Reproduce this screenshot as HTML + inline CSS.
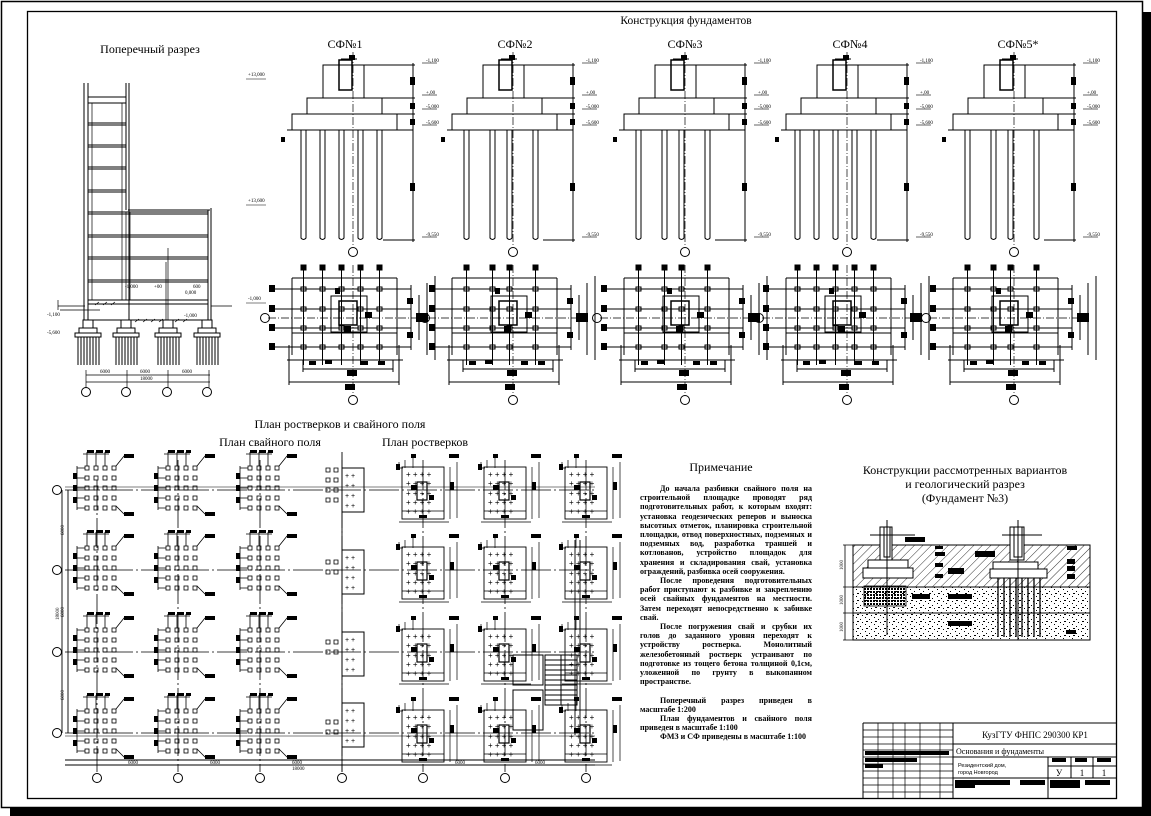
<!DOCTYPE html>
<html><head><meta charset="utf-8"><style>
html,body{margin:0;padding:0;background:#fff;}
body{width:1151px;height:816px;overflow:hidden;position:relative;font-family:"Liberation Serif","DejaVu Serif",serif;}
svg{position:absolute;left:0;top:0;}
.note{position:absolute;left:640px;top:484px;width:172px;font-size:8px;line-height:9.2px;font-weight:bold;color:#000;}
.note div{text-align:justify;text-align-last:justify;white-space:nowrap;overflow:hidden;}
.note div.l{text-align-last:left;}
.note div.i{text-indent:20px;}
</style></head><body>
<svg width="1151" height="816" viewBox="0 0 1151 816" font-family="Liberation Serif, serif">
<defs>
<pattern id="hat" width="6" height="6" patternUnits="userSpaceOnUse" patternTransform="rotate(45)"><line x1="0" y1="0" x2="0" y2="6" stroke="#000" stroke-width="0.8"/></pattern>
<pattern id="dots" width="9" height="7" patternUnits="userSpaceOnUse"><rect x="1" y="1" width="1" height="1"/><rect x="5" y="3" width="1" height="1"/><rect x="2" y="5" width="2" height="1"/><rect x="7" y="6" width="1" height="1"/></pattern>
<pattern id="grid" width="3" height="3" patternUnits="userSpaceOnUse"><rect width="2" height="2"/></pattern>
<g id="fd" fill="none" stroke="#000"><rect x="-5" y="320" width="10" height="8"/><rect x="-9" y="328" width="18" height="5"/><rect x="-13" y="333" width="26" height="4"/><path d="M-10 337 v28 M-7 337 v28 M-4 337 v28 M-1 337 v28 M2 337 v28 M5 337 v28 M8 337 v28 M11 337 v28"/></g>
<g id="elev" fill="none" stroke="#000" stroke-width="1">
 <rect x="-30" y="65" width="41" height="33"/>
 <rect x="-14" y="60" width="13" height="30" stroke-width="1.5"/>
 <rect x="-46" y="98" width="75" height="16"/>
 <rect x="-61" y="114" width="105" height="16"/>
 <line x1="-66" y1="130" x2="60" y2="130"/>
 <line x1="0" y1="52" x2="0" y2="246" stroke-dasharray="8,2,1,2" stroke-width="0.7"/>
 <circle cx="0" cy="252" r="4.5"/>
 <line x1="60" y1="63" x2="60" y2="242"/>
 <line x1="11" y1="65" x2="62" y2="65"/><line x1="29" y1="98" x2="62" y2="98"/><line x1="44" y1="114" x2="62" y2="114"/><line x1="30" y1="240" x2="62" y2="240"/>
 <line x1="-12" y1="59" x2="4" y2="59"/>
 <g fill="#000" stroke="none"><rect x="57" y="77" width="5" height="8"/><rect x="57" y="103" width="5" height="6"/><rect x="57" y="119" width="5" height="6"/><rect x="57" y="183" width="5" height="8"/><rect x="-72" y="137" width="4" height="5"/><rect x="-4" y="55" width="6" height="5"/></g>
 <g font-size="5" fill="#000" stroke="none"><text x="73" y="62">-1,100</text><text x="73" y="94">+,00</text><text x="73" y="108">-5,000</text><text x="73" y="124">-5,600</text><text x="73" y="236">-9,550</text></g>
 <g stroke-width="0.6"><line x1="69" y1="63" x2="84" y2="63"/><line x1="69" y1="95" x2="84" y2="95"/><line x1="69" y1="109" x2="84" y2="109"/><line x1="69" y1="125" x2="84" y2="125"/><line x1="69" y1="237" x2="84" y2="237"/></g>
 <line x1="-61" y1="278" x2="44" y2="278"/><line x1="-61" y1="278" x2="-61" y2="355"/><line x1="44" y1="278" x2="44" y2="355"/><line x1="-61" y1="333" x2="44" y2="333"/>
 <line x1="-80" y1="289" x2="58" y2="289"/><line x1="-80" y1="309" x2="58" y2="309"/><line x1="-80" y1="328" x2="58" y2="328"/><line x1="-80" y1="347" x2="58" y2="347"/>
 <rect x="-22" y="296" width="36" height="36"/><rect x="-14" y="301" width="18" height="24" stroke-width="1.5"/>
 <line x1="0" y1="265" x2="0" y2="395" stroke-dasharray="8,2,1,2" stroke-width="0.7"/>
 <line x1="-85" y1="318" x2="68" y2="318" stroke-dasharray="8,2,1,2" stroke-width="0.7"/>
 <circle cx="0" cy="400" r="4.5"/><circle cx="-88" cy="318" r="4.5"/>
 <line x1="-66" y1="360" x2="50" y2="360"/><line x1="-50" y1="369" x2="40" y2="369"/><line x1="-64" y1="382" x2="46" y2="382"/>
 <line x1="-64" y1="345" x2="-64" y2="385"/><line x1="46" y1="345" x2="46" y2="385"/><line x1="-50" y1="360" x2="-50" y2="372"/><line x1="40" y1="360" x2="40" y2="372"/>
 <line x1="58" y1="285" x2="58" y2="350"/><line x1="66" y1="295" x2="66" y2="340"/><line x1="74" y1="283" x2="74" y2="355"/><line x1="82" y1="276" x2="82" y2="360"/>
 <g fill="#000" stroke="none"><rect x="-84" y="285" width="6" height="7"/><rect x="-84" y="305" width="6" height="7"/><rect x="-84" y="324" width="6" height="7"/><rect x="-84" y="343" width="6" height="7"/><rect x="63" y="313" width="12" height="9"/><rect x="54" y="298" width="6" height="6"/><rect x="54" y="332" width="6" height="6"/><rect x="-9" y="326" width="7" height="7"/><rect x="-18" y="288" width="5" height="6"/><rect x="-6" y="370" width="10" height="6"/><rect x="-8" y="384" width="10" height="6"/><rect x="-28" y="360" width="7" height="4"/><rect x="-44" y="361" width="7" height="4"/><rect x="8" y="361" width="7" height="4"/><rect x="25" y="361" width="7" height="4"/><rect x="12" y="312" width="7" height="6"/></g>
</g>
<g id="pl" fill="none" stroke="#000"><path d="M-52 130 V238 q2.5 3 5 0 V130" /><rect x="-52" y="287" width="5" height="4"/><rect x="-52" y="307" width="5" height="4"/><rect x="-52" y="326" width="5" height="4"/><rect x="-52" y="345" width="5" height="4"/><line x1="-49.5" y1="268" x2="-49.5" y2="365"/><rect x="-52" y="265" width="5" height="5" fill="#000"/></g>
<g id="p5"><use href="#pl"/><use href="#pl" x="19"/><use href="#pl" x="38"/><use href="#pl" x="57"/><use href="#pl" x="76"/></g>
<g id="p4"><use href="#pl" x="3"/><use href="#pl" x="29"/><use href="#pl" x="46"/><use href="#pl" x="72"/></g>
<g id="cl" fill="none" stroke="#000" stroke-width="0.8">
 <rect x="-12" y="-24" width="4" height="4"/><rect x="-3" y="-24" width="4" height="4"/><rect x="6" y="-24" width="4" height="4"/><rect x="15" y="-24" width="4" height="4"/>
</g>
<g id="cluster" fill="none" stroke="#000" stroke-width="0.8">
 <use href="#cl" y="0"/><use href="#cl" y="10"/><use href="#cl" y="20"/><use href="#cl" y="30"/><use href="#cl" y="40"/>
 <path d="M-20 -22 h8 M-20 -12 h8 M-20 -2 h8 M-20 8 h8 M-20 18 h8 M-20 -24 v44"/>
 <path d="M-10 -24 v-14 M-1 -24 v-14 M8 -24 v-14 M-14 -36 h26"/>
 <path d="M19 -24 l8 -10 h6 M19 16 l8 8 h6"/>
 <g fill="#000" stroke="none"><rect x="-24" y="-17" width="4" height="6"/><rect x="-24" y="-5" width="4" height="6"/><rect x="-24" y="7" width="4" height="6"/><rect x="-10" y="-40" width="7" height="3"/><rect x="-1" y="-40" width="7" height="3"/><rect x="8" y="-40" width="5" height="3"/><rect x="27" y="-36" width="10" height="4"/><rect x="27" y="22" width="10" height="4"/></g>
</g>
<g id="rost" fill="none" stroke="#000" stroke-width="0.9">
 <rect x="-21" y="-23" width="42" height="52"/>
 <path d="M-21 21 h42 M-24 32 h50 M27 -23 v52 M34 -28 v56" stroke-width="0.7"/>
 <path d="M-18 -30 v8 M-10 -32 v10 M-20 -22 h-4 M-24 -28 v8" stroke-width="0.7"/>
 <g font-size="8" fill="#000" stroke="none" font-family="Liberation Sans"><text x="-17" y="-13">+ + + +</text><text x="-17" y="-4">+ + + +</text><text x="-17" y="6">+ + + +</text><text x="-17" y="15">+ + + +</text><text x="-17" y="24">+ + + +</text></g>
 <g fill="#000" stroke="none"><rect x="-12" y="-36" width="5" height="4"/><rect x="-27" y="-26" width="4" height="6"/><rect x="26" y="-36" width="10" height="4"/><rect x="27" y="-8" width="4" height="8"/><rect x="-4" y="25" width="8" height="3"/><rect x="-12" y="-5" width="6" height="5"/><rect x="6" y="5" width="5" height="5"/></g>
 <rect x="-6" y="-8" width="10" height="18" stroke-width="1.2"/>
</g>
</defs>

<rect x="1.5" y="1.5" width="1141" height="806" fill="none" stroke="#000" stroke-width="1.5"/>
<rect x="1143" y="12" width="8" height="804" fill="#000"/>
<rect x="10" y="808" width="1141" height="8" fill="#000"/>
<rect x="27.5" y="11.5" width="1089" height="787" fill="none" stroke="#000" stroke-width="1.3"/>

<g fill="#000" font-size="12">
<text x="686" y="24" text-anchor="middle" font-size="11.5">Конструкция фундаментов</text>
<text x="150" y="53" text-anchor="middle">Поперечный разрез</text>
<text x="345" y="48" text-anchor="middle">СФ№1</text>
<text x="515" y="48" text-anchor="middle">СФ№2</text>
<text x="685" y="48" text-anchor="middle">СФ№3</text>
<text x="850" y="48" text-anchor="middle">СФ№4</text>
<text x="1018" y="48" text-anchor="middle">СФ№5*</text>
<text x="340" y="428" text-anchor="middle">План ростверков и свайного поля</text>
<text x="270" y="446" text-anchor="middle">План свайного поля</text>
<text x="425" y="446" text-anchor="middle">План ростверков</text>
<text x="721" y="471" text-anchor="middle">Примечание</text>
<text x="965" y="474" text-anchor="middle">Конструкции рассмотренных вариантов</text>
<text x="965" y="488" text-anchor="middle">и геологический разрез</text>
<text x="965" y="502" text-anchor="middle">(Фундамент №3)</text>
</g>

<g transform="translate(353,0)"><use href="#elev"/><use href="#p5"/></g>
<g transform="translate(513,0)"><use href="#elev"/><use href="#p4"/></g>
<g transform="translate(685,0)"><use href="#elev"/><use href="#p4"/></g>
<g transform="translate(847,0)"><use href="#elev"/><use href="#p5"/></g>
<g transform="translate(1014,0)"><use href="#elev"/><use href="#p4"/></g>
<g font-size="5" fill="#000"><text x="248" y="76">+13,000</text><text x="248" y="202">+13,600</text><text x="248" y="300">-1,000</text></g>
<path d="M246 79 h20 M246 205 h20 M246 303 h20" stroke="#000" stroke-width="0.6"/>

<g fill="none" stroke="#000" stroke-width="1">
 <path d="M84 83 V320 M88 83 V320 M126 83 V210 M129 83 V320 M128 210 H210 M208 210 V320 M211 208 V320"/>
 <path d="M88 97 H126 M88 103 H126 M88 123 H126 M88 125 H126 M88 145 H126 M88 147 H126 M88 167 H126 M88 169 H126 M88 190 H126 M88 192 H126"/>
 <path d="M88 212 H208 M88 214 H208 M88 235 H208 M88 237 H208 M88 257 H208 M88 259 H208 M88 280 H208 M88 282 H208 M88 300 H208 M88 304 H208 M92 320 H208"/>
 <path d="M92 103 V300 M122 103 V300 M126 212 V300 M130 212 V300 M168 248 V320 M166 262 V320" stroke-width="0.7"/>
 <path d="M58 306 H85 M211 306 H232" stroke-width="0.8"/>
 <use href="#fd" x="88"/><use href="#fd" x="126"/><use href="#fd" x="168"/><use href="#fd" x="207"/>
 <path d="M86 375 H210 M86 382 H210 M86 370 V388 M127 370 V388 M168 370 V388 M209 370 V388" stroke-width="0.7"/>
 <circle cx="86" cy="392" r="4.5"/><circle cx="126" cy="392" r="4.5"/><circle cx="167" cy="392" r="4.5"/><circle cx="207" cy="392" r="4.5"/>
</g>
<g font-size="5" fill="#000"><text x="100" y="373">6000</text><text x="140" y="373">6000</text><text x="182" y="373">6000</text><text x="140" y="380">18000</text><text x="47" y="316">-1,100</text><text x="47" y="334">-5,600</text><text x="184" y="317">-1,000</text><text x="185" y="294">0,000</text><text x="125" y="288">-1,000</text><text x="154" y="288">+00</text><text x="193" y="288">600</text></g>
<path d="M58 310 V300 M60 310 H100 M190 320 H210 M95 305 l4 -3 M103 305 l4 -3 M111 305 l4 -3 M135 322 l4 -3 M143 322 l4 -3 M151 322 l4 -3 M159 322 l4 -3 M175 322 l4 -3 M183 322 l4 -3" stroke="#000" stroke-width="0.7" fill="none"/>

<g stroke="#000" fill="none" stroke-width="1">
 <path d="M65 490 H595 M65 570 H595 M65 652 H595 M65 733 H595" stroke-dasharray="30,3,2,3" stroke-width="0.8"/>
 <path d="M65 487 H595 M65 736 H595" stroke-width="0.6"/>
 <path d="M97 480 V772 M178 460 V772 M260 460 V772 M342 460 V772 M423 460 V772 M505 460 V772 M586 460 V772" stroke-dasharray="30,3,2,3" stroke-width="0.8"/>
 <path d="M342 452 V772 M65 760 H595 M65 765 H595 M62 490 V733 M68 490 V733" stroke-width="0.9"/>
 <path d="M575 540 V735 M580 540 V735" stroke-width="0.9"/>
 <circle cx="57" cy="490" r="4.5"/><circle cx="57" cy="570" r="4.5"/><circle cx="57" cy="652" r="4.5"/><circle cx="57" cy="733" r="4.5"/>
 <circle cx="97" cy="778" r="4.5"/><circle cx="178" cy="778" r="4.5"/><circle cx="260" cy="778" r="4.5"/><circle cx="342" cy="778" r="4.5"/><circle cx="423" cy="778" r="4.5"/><circle cx="505" cy="778" r="4.5"/><circle cx="586" cy="778" r="4.5"/>
 <rect x="545" y="655" width="32" height="50"/>
 <path d="M545 660 H577 M545 665 H577 M545 670 H577 M545 675 H577 M545 680 H577 M545 685 H577 M545 690 H577 M545 695 H577 M545 700 H577 M561 655 V705"/>
 <rect x="513" y="655" width="30" height="30"/><rect x="513" y="690" width="30" height="40"/>
 <rect x="342" y="468" width="22" height="44"/><rect x="342" y="550" width="22" height="44"/><rect x="342" y="632" width="22" height="44"/><rect x="342" y="703" width="22" height="44"/>
</g>
<g font-size="7" fill="#000" font-family="Liberation Sans"><text x="345" y="478">+ +</text><text x="345" y="488">+ +</text><text x="345" y="498">+ +</text><text x="345" y="508">+ +</text><text x="345" y="560">+ +</text><text x="345" y="570">+ +</text><text x="345" y="580">+ +</text><text x="345" y="590">+ +</text><text x="345" y="642">+ +</text><text x="345" y="652">+ +</text><text x="345" y="662">+ +</text><text x="345" y="672">+ +</text><text x="345" y="713">+ +</text><text x="345" y="723">+ +</text><text x="345" y="733">+ +</text><text x="345" y="743">+ +</text></g>
<g fill="none" stroke="#000" stroke-width="0.8"><path d="M326 468 h4 v4 h-4z M334 468 h4 v4 h-4z M326 478 h4 v4 h-4z M334 478 h4 v4 h-4z M326 488 h4 v4 h-4z M334 488 h4 v4 h-4z M326 498 h4 v4 h-4z M334 498 h4 v4 h-4z M326 560 h4 v4 h-4z M334 560 h4 v4 h-4z M326 570 h4 v4 h-4z M334 570 h4 v4 h-4z M326 650 h4 v4 h-4z M334 650 h4 v4 h-4z M326 640 h4 v4 h-4z M334 640 h4 v4 h-4z M326 720 h4 v4 h-4z M334 720 h4 v4 h-4z M326 730 h4 v4 h-4z M334 730 h4 v4 h-4z"/></g>
<g><use href="#cluster" x="97" y="490"/><use href="#cluster" x="178" y="490"/><use href="#cluster" x="260" y="490"/>
<use href="#cluster" x="97" y="570"/><use href="#cluster" x="178" y="570"/><use href="#cluster" x="260" y="570"/>
<use href="#cluster" x="97" y="652"/><use href="#cluster" x="178" y="652"/><use href="#cluster" x="260" y="652"/>
<use href="#cluster" x="97" y="733"/><use href="#cluster" x="178" y="733"/><use href="#cluster" x="260" y="733"/>
<use href="#rost" x="423" y="490"/><use href="#rost" x="505" y="490"/><use href="#rost" x="586" y="490"/>
<use href="#rost" x="423" y="570"/><use href="#rost" x="505" y="570"/><use href="#rost" x="586" y="570"/>
<use href="#rost" x="423" y="652"/><use href="#rost" x="505" y="652"/><use href="#rost" x="586" y="652"/>
<use href="#rost" x="423" y="733"/><use href="#rost" x="505" y="733"/><use href="#rost" x="586" y="733"/></g>
<g font-size="5" fill="#000"><text x="128" y="764">6000</text><text x="210" y="764">6000</text><text x="292" y="764">6000</text><text x="292" y="770">18000</text><text x="455" y="764">6000</text><text x="535" y="764">6000</text>
<text transform="translate(64,535) rotate(-90)">6000</text><text transform="translate(64,617) rotate(-90)">6000</text><text transform="translate(64,700) rotate(-90)">6000</text><text transform="translate(59,620) rotate(-90)">18000</text></g>

<g stroke="#000">
 <rect x="853" y="545" width="237" height="42" fill="url(#hat)"/>
 <rect x="853" y="587" width="237" height="26" fill="url(#dots)"/>
 <rect x="853" y="613" width="237" height="27" fill="url(#dots)"/>
 <rect x="853" y="545" width="237" height="95" fill="none"/>
 <path d="M845 545 V640 M843 545 h12 M843 587 h12 M843 613 h12 M843 640 h12" fill="none" stroke-width="0.8"/>
 <rect x="864" y="586" width="42" height="20" fill="url(#grid)" stroke-width="0.8"/>
 <g fill="#fff"><rect x="880" y="527" width="12" height="33"/><rect x="868" y="560" width="40" height="8"/><rect x="863" y="568" width="50" height="10"/>
 <rect x="1010" y="527" width="14" height="33"/><rect x="993" y="562" width="45" height="7"/><rect x="990" y="569" width="57" height="9"/></g>
 <path d="M884 527 v30 h6 v-30 M1014 527 v30 h8 v-30 M887 520 V635 M1018 520 V640 M870 535 h45 M1002 535 h40" fill="none"/>
 <path d="M998 578 V637 M1004 578 V637 M1010 578 V637 M1016 578 V637 M1022 578 V637 M1028 578 V637 M1034 578 V637 M1040 578 V637" fill="none" stroke-width="1.3"/>
 <g fill="#000" stroke="none"><rect x="905" y="537" width="20" height="5"/><rect x="935" y="546" width="8" height="3"/><rect x="935" y="552" width="10" height="4"/><rect x="935" y="563" width="8" height="4"/><rect x="935" y="574" width="8" height="4"/><rect x="975" y="551" width="20" height="6"/><rect x="948" y="568" width="16" height="6"/><rect x="912" y="594" width="18" height="5"/><rect x="948" y="594" width="24" height="5"/><rect x="948" y="621" width="24" height="5"/><rect x="1067" y="546" width="10" height="4"/><rect x="1067" y="559" width="8" height="5"/><rect x="1067" y="566" width="8" height="5"/><rect x="1067" y="574" width="8" height="5"/><rect x="1066" y="630" width="10" height="4"/></g>
</g>
<g font-size="5" fill="#000"><text transform="translate(843,570) rotate(-90)">1000</text><text transform="translate(843,605) rotate(-90)">1000</text><text transform="translate(843,632) rotate(-90)">1000</text></g>

<g fill="none" stroke="#000" stroke-width="1">
 <path d="M863 723 H1116 M863 723 V798 M953 723 V798 M953 744 H1116 M953 757 H1116 M1048 757 V798 M953 778 H1116 M1071 757 V778 M1093 757 V778 M1048 766 H1116"/>
 <path d="M863 730 H953 M863 737 H953 M863 744 H953 M863 750 H953 M863 757 H953 M863 764 H953 M863 771 H953 M863 778 H953 M863 785 H953 M863 792 H953 M878 723 V798 M893 723 V798 M905 723 V798 M920 723 V798 M940 723 V798" stroke-width="0.7"/>
 <g fill="#000" stroke="none"><rect x="865" y="751" width="84" height="4"/><rect x="865" y="758" width="52" height="4"/><rect x="865" y="764" width="18" height="4"/><rect x="955" y="780" width="20" height="8"/><rect x="975" y="780" width="35" height="5"/><rect x="1020" y="780" width="25" height="5"/><rect x="1050" y="780" width="30" height="8"/><rect x="1085" y="780" width="25" height="5"/><rect x="1052" y="758" width="14" height="4"/><rect x="1075" y="758" width="12" height="4"/><rect x="1097" y="758" width="14" height="4"/></g>
</g>
<g fill="#000"><text x="1035" y="738" font-size="9" text-anchor="middle">КузГТУ ФНПС 290300 КР1</text><text x="1000" y="754" font-size="8" text-anchor="middle">Основания и фундаменты</text>
<text x="958" y="767" font-size="5.5" font-family="Liberation Sans">Резидентский дом,</text><text x="958" y="774" font-size="5.5" font-family="Liberation Sans">город Новгород</text>
<text x="1059" y="776" font-size="9" text-anchor="middle">У</text><text x="1082" y="776" font-size="9" text-anchor="middle">1</text><text x="1104" y="776" font-size="9" text-anchor="middle">1</text></g>
</svg>
<div class="note">
<div class="i">До начала разбивки свайного поля на</div>
<div>строительной площадке проводят ряд</div>
<div>подготовительных работ, к которым входят:</div>
<div>установка геодезических реперов и выноска</div>
<div>высотных отметок, планировка строительной</div>
<div>площадки, отвод поверхностных, подземных и</div>
<div>подземных вод, разработка траншей и</div>
<div>котлованов, устройство площадок для</div>
<div>хранения и складирования свай, установка</div>
<div class="l">ограждений, разбивка осей сооружения.</div>
<div class="i">После проведения подготовительных</div>
<div>работ приступают к разбивке и закреплению</div>
<div>осей свайных фундаментов на местности.</div>
<div>Затем переходят непосредственно к забивке</div>
<div class="l">свай.</div>
<div class="i">После погружения свай и срубки их</div>
<div>голов до заданного уровня переходят к</div>
<div>устройству ростверка. Монолитный</div>
<div>железобетонный ростверк устраивают по</div>
<div>подготовке из тощего бетона толщиной 0,1см,</div>
<div>уложенной по грунту в выкопанном</div>
<div class="l">пространстве.</div>
<div class="l">&nbsp;</div>
<div class="i">Поперечный разрез приведен в</div>
<div class="l">масштабе 1:200</div>
<div class="i">План фундаментов и свайного поля</div>
<div class="l">приведен в масштабе 1:100</div>
<div class="i l">ФМЗ и СФ приведены в масштабе 1:100</div>
</div>
</body></html>
